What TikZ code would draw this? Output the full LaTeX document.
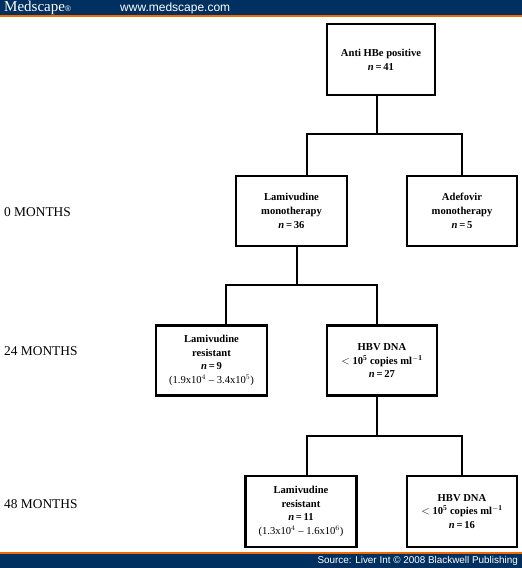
\documentclass[tikz,border=0pt]{standalone}
\usepackage{fontspec}
\setmainfont{Liberation Serif}
\newfontfamily\arialfont{Liberation Sans}
\usetikzlibrary{calc}
\definecolor{barblue}{HTML}{00305F}
\definecolor{barorange}{HTML}{F26A00}
\tikzset{
    flowbox/.style={draw, line width=2.4pt, align=center, inner sep=0pt, font=\fontsize{10.6}{13.8}\selectfont},
    monthlabel/.style={anchor=west, inner sep=0pt, font=\fontsize{13.4}{15}\selectfont},
    link/.style={line width=2.2pt, line cap=rect}
}
\newcommand{\nn}[1]{\textit{n}\,=\,#1}

\begin{document}
\begin{tikzpicture}[x=1pt,y=-1pt]
    \useasboundingbox (0,0) rectangle (522,568);

        \fill[barblue] (0,0) rectangle (522,15);
        \fill[barorange] (0,15) rectangle (522,17);
        \fill[barorange] (0,552) rectangle (522,554);
        \fill[barblue] (0,554) rectangle (522,568);
        \node[anchor=west, inner sep=0pt, text=white, font=\fontsize{15}{15}\selectfont] (brand) at (4,7.5) {Medscape\raisebox{0pt}{\fontsize{8}{8}\selectfont\arialfont\textregistered}};
        \node[anchor=west, inner sep=0pt, text=white, font=\arialfont\fontsize{12}{14}\selectfont] (site) at (120,8) {www.medscape.com};
        \node[anchor=east, inner sep=0pt, text=white, font=\arialfont\fontsize{9.9}{12}\selectfont] (source) at (518,561) {Source: Liver Int © 2008 Blackwell Publishing};

        \node[monthlabel] (m0) at (4,212) {0 MONTHS};
        \node[monthlabel] (m24) at (4,351) {24 MONTHS};
        \node[monthlabel] (m48) at (4,504) {48 MONTHS};

        \node[flowbox, minimum width=108pt, minimum height=71pt] (anti) at (381,59.5) {\textbf{Anti HBe positive}\\\textbf{\nn{41}}};
        \node[flowbox, minimum width=111pt, minimum height=70pt] (lami) at (291.5,211) {\textbf{Lamivudine}\\\textbf{monotherapy}\\\textbf{\nn{36}}};
        \node[flowbox, minimum width=110pt, minimum height=70pt] (adef) at (462,211) {\textbf{Adefovir}\\\textbf{monotherapy}\\\textbf{\nn{5}}};
        \node[flowbox, minimum width=111pt, minimum height=70pt] (res24) at (211.5,360.5) {\textbf{Lamivudine}\\\textbf{resistant}\\\textbf{\nn{9}}\\(1.9x10$^{4}$ -- 3.4x10$^{5}$)};
        \node[flowbox, minimum width=110pt, minimum height=70pt] (dna24) at (382,360.5) {\textbf{HBV DNA}\\\textbf{$<$ 10$^{\mathbf{5}}$ copies ml$^{\mathbf{-1}}$}\\\textbf{\nn{27}}};
        \node[flowbox, minimum width=111pt, minimum height=71pt] (res48) at (301,511.5) {\textbf{Lamivudine}\\\textbf{resistant}\\\textbf{\nn{11}}\\(1.3x10$^{4}$ -- 1.6x10$^{6}$)};
        \node[flowbox, minimum width=110pt, minimum height=71pt] (dna48) at (462,511.5) {\textbf{HBV DNA}\\\textbf{$<$ 10$^{\mathbf{5}}$ copies ml$^{\mathbf{-1}}$}\\\textbf{\nn{16}}};

        % first split
        \coordinate (t1) at (377,95);
        \coordinate (s1) at (377,134);
        \coordinate (l1) at (307,176);
        \draw[link] (t1) -- (s1);
        \draw[link] (l1) |- (s1) -| (adef.north);
        % second split
        \coordinate (t2) at (297,246);
        \coordinate (s2) at (297,285);
        \coordinate (l2) at (226,325);
        \coordinate (r2) at (377,325);
        \draw[link] (t2) -- (s2);
        \draw[link] (l2) |- (s2) -| (r2);
        % third split
        \coordinate (t3) at (377,396);
        \coordinate (s3) at (377,436);
        \coordinate (l3) at (307,476);
        \draw[link] (t3) -- (s3);
        \draw[link] (l3) |- (s3) -| (dna48.north);

    \end{tikzpicture}
\end{document}
